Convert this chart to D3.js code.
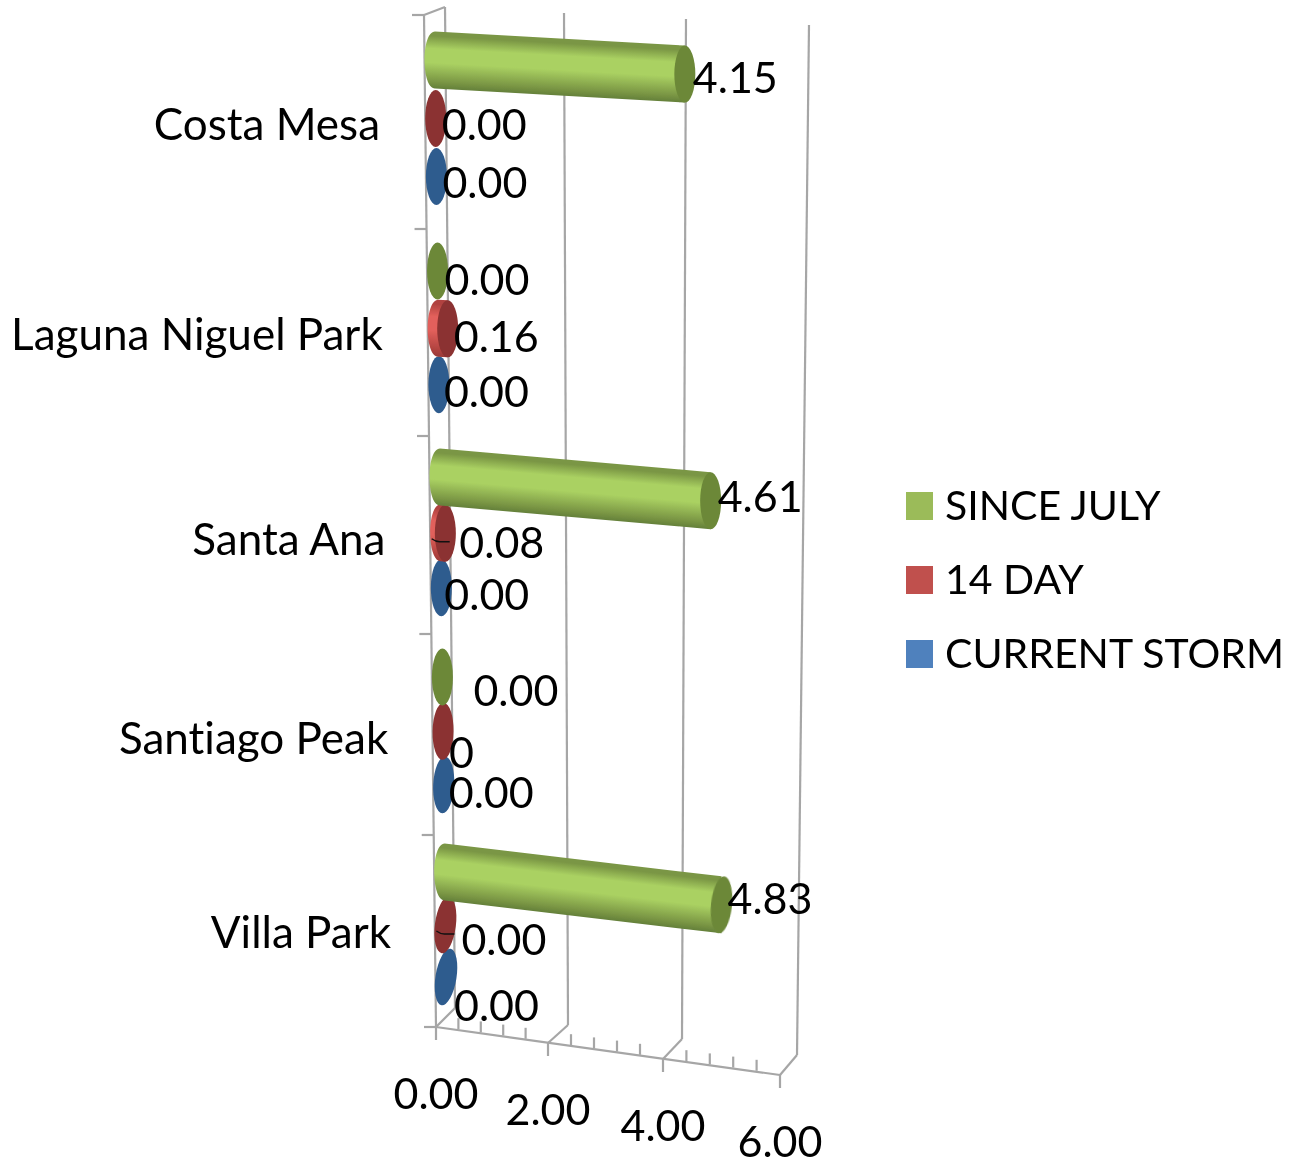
<!DOCTYPE html>
<html><head><meta charset="utf-8">
<script src="https://cdn.jsdelivr.net/npm/d3@7"></script>
<style>html,body{margin:0;padding:0;background:#fff}svg{display:block}text{font-family:Lato,"Open Sans",sans-serif;fill:#000;font-variant-ligatures:none;font-feature-settings:"liga" 0}</style>
</head><body><svg id="c" width="1299" height="1162"></svg>
<script>
// ---- data
const categories = ["Costa Mesa","Laguna Niguel Park","Santa Ana","Santiago Peak","Villa Park"];
const seriesNames = ["SINCE JULY","14 DAY","CURRENT STORM"];
const sinceJuly    = [4.15,0.00,4.61,0.00,4.83];
const fourteenDay  = [0.00,0.16,0.08,0.00,0.00];
const currentStorm = [0.00,0.00,0.00,0.00,0.00];
const sinceJulyLabels    = ["4.15","0.00","4.61","0.00","4.83"];
const fourteenDayLabels  = ["0.00","0.16","0.08","0","0.00"];
const currentStormLabels = ["0.00","0.00","0.00","0.00","0.00"];
const axisTicks = [0,2,4,6];
const minorTicks = d3.range(0,6,0.4).filter(v=>Math.abs(v/2-Math.round(v/2))>1e-6);

// ---- layout (manually placed data-label offsets from each bar tip, as in the original)
const nudgeSince = [[9,3],[8,8],[8,-4],[32,13],[7,-6]];
const nudge14    = [[7,6],[7,8],[15,9],[7,21],[17,14]];
const nudgeStorm = [[7,6],[6,7],[4,7],[6,8],[9,28]];
const leaderCats = [2,4];
const palette = {
  legend:["#9BBB59","#C0504D","#4F81BD"],
  cap:["#6C8839","#8B3230","#2F5B8E"],
  edge:["#7A9644","#B0423F","#2F5B8E"],
  dark:["#64803A","#9A3A38","#2F5B8E"],
  mid:["#AAD162","#E2605B","#4F81BD"]
};
const grid="#A6A6A6";
const series=[
 {i:0,vals:sinceJuly,labels:sinceJulyLabels,nudge:nudgeSince},
 {i:1,vals:fourteenDay,labels:fourteenDayLabels,nudge:nudge14},
 {i:2,vals:currentStorm,labels:currentStormLabels,nudge:nudgeStorm}];

// ---- scales
const bandY = d3.scaleLinear([0,1,2,3,4],[60,271,477,677,872]);
const offset1 = d3.scaleLinear([0,4],[58.5,53]);
const offset2 = d3.scaleLinear([0,4],[116.5,105]);
const rowY=(c,s)=>bandY(c)+(s===0?0:s===1?offset1(c):offset2(c));
const startX = d3.scaleLinear([60,977],[435,446]);
const unitDx = d3.scaleLinear([60,872],[60.2,57.3]);
const unitDy = d3.scaleLinear([60,872],[3.4,6.8]);
const tilt = d3.scaleLinear([700,977],[0,9]).clamp(true);
const floorX = d3.scaleLinear(axisTicks,[436,548,663,780]);
const floorY = d3.scaleLinear(axisTicks,[1027,1043,1059,1075]);
const backBotX = d3.scaleLinear(axisTicks,[455,568,682,797]);
const backBotY = d3.scaleLinear(axisTicks,[1008,1025,1039,1055]);
const backTopX = d3.scaleLinear(axisTicks,[445,564,686,809]);
const backTopY = d3.scaleLinear(axisTicks,[7,13,19,25]);
const catTickY = d3.scaleLinear([0,1,2,3,4,5],[15,229,436,634,835,1027]);
const wallX = d3.scaleLinear([15,1027],[424,436]);
const RY=28.5, RX=10.5;

const svg=d3.select("#c");
const defs=svg.append("defs");
defs.append("filter").attr("id","soft").append("feGaussianBlur").attr("stdDeviation",0.6);
const line=(g,x1,y1,x2,y2,w=2.2)=>g.append("line").attr("x1",x1).attr("y1",y1).attr("x2",x2).attr("y2",y2).attr("stroke",grid).attr("stroke-width",w);

// ---- walls and floor
const walls=svg.append("g");
axisTicks.forEach(v=>{
  line(walls,backTopX(v),backTopY(v),backBotX(v),backBotY(v));
  line(walls,floorX(v),floorY(v),backBotX(v),backBotY(v));
  line(walls,floorX(v),floorY(v),floorX(v),floorY(v)+13);
});
line(walls,wallX(15),15,wallX(1027),1027);
line(walls,wallX(15),15,backTopX(0),backTopY(0));
line(walls,floorX(0),floorY(0),floorX(6),floorY(6));
minorTicks.forEach(v=>line(walls,floorX(v),floorY(v)-1,floorX(v),floorY(v)-12));
d3.range(0,6).forEach(i=>line(walls,wallX(catTickY(i))-12,catTickY(i),wallX(catTickY(i)),catTickY(i)));

// ---- bars
const barsG=svg.append("g").attr("filter","url(#soft)");
[...series].reverse().forEach(s=>{
  categories.forEach((cat,c)=>{
    const v=s.vals[c], y=rowY(c,s.i), x0=startX(y);
    const x1=x0+unitDx(y)*v, y1=y+unitDy(y)*v;
    if(v>0){
      const id=`g${s.i}_${c}`;
      const dx=x1-x0, dy=y1-y, len=Math.hypot(dx,dy);
      const nx=-dy/len, ny=dx/len, mx=(x0+x1)/2, my=(y+y1)/2, r=RY*dx/len;
      const g=defs.append("linearGradient").attr("id",id).attr("gradientUnits","userSpaceOnUse")
        .attr("x1",mx-nx*r).attr("y1",my-ny*r).attr("x2",mx+nx*r).attr("y2",my+ny*r);
      [[0,palette.edge[s.i]],[.08,palette.edge[s.i]],[.3,palette.mid[s.i]],[.55,palette.mid[s.i]],[.88,palette.edge[s.i]],[1,palette.dark[s.i]]]
        .forEach(([o,col])=>g.append("stop").attr("offset",o).attr("stop-color",col));
      const p=d3.path();
      p.moveTo(x1,y1-RY);
      p.lineTo(x0,y-RY);
      p.bezierCurveTo(x0-RX*1.33,y-RY,x0-RX*1.33,y+RY,x0,y+RY);
      p.lineTo(x1,y1+RY);
      p.closePath();
      barsG.append("path").attr("d",p.toString()).attr("fill",`url(#${id})`);
    }
    barsG.append("ellipse")
      .attr("cx",x1).attr("cy",y1).attr("rx",RX).attr("ry",RY)
      .attr("transform",`rotate(${tilt(y)},${x1},${y1})`)
      .attr("fill",palette.cap[s.i]);
  });
});

// ---- leader lines
leaderCats.forEach(c=>{
  const y=rowY(c,1), x=startX(y);
  svg.append("path").attr("fill","none").attr("stroke","#111").attr("stroke-width",1.3)
    .attr("d",`M${x-9},${y+6}q4,3 8,3h10`);
});

// ---- data labels
series.forEach(s=>categories.forEach((cat,c)=>{
  const v=s.vals[c], y=rowY(c,s.i), x0=startX(y);
  const x1=x0+unitDx(y)*v, y1=y+unitDy(y)*v;
  svg.append("text").attr("x",x1+s.nudge[c][0]-1).attr("y",y1+s.nudge[c][1]+15.5)
    .attr("font-size",43).text(s.labels[c]);
}));

// ---- axis labels
axisTicks.forEach(v=>{
  svg.append("text").attr("x",floorX(v)).attr("y",floorY(v)+82).attr("text-anchor","middle")
    .attr("font-size",43).text(d3.format(".2f")(v));
});
const catLabelX=d3.scaleLinear([0,4],[380,391]);
const catLabelY=d3.scaleLinear([0,1,2,3,4],[125,335,540,739,933]);
categories.forEach((cat,c)=>{
  svg.append("text").attr("x",catLabelX(c)).attr("y",catLabelY(c)+15).attr("text-anchor","end")
    .attr("font-size",44).text(cat);
});

// ---- legend
const legY=d3.scalePoint(seriesNames,[506,654]);
seriesNames.forEach((n,i)=>{
  svg.append("rect").attr("x",906).attr("y",legY(n)-14).attr("width",27).attr("height",28).attr("fill",palette.legend[i]);
  svg.append("text").attr("x",945).attr("y",legY(n)+14).attr("font-size",41).text(n);
});
</script></body></html>
